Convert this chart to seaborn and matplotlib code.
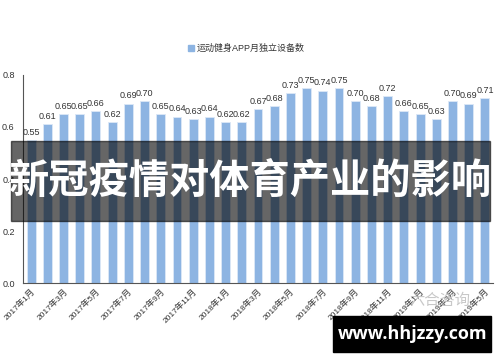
import matplotlib
matplotlib.use("Agg")
import matplotlib.pyplot as plt
import seaborn as sns
import pandas as pd
from matplotlib.patches import Rectangle

months = [f"2017年{m}月" for m in range(1, 13)] + [f"2018年{m}月" for m in range(1, 13)] + [f"2019年{m}月" for m in range(1, 6)]
values = [0.55, 0.61, 0.65, 0.65, 0.66, 0.62, 0.69, 0.70, 0.65, 0.64, 0.63, 0.64,
          0.62, 0.62, 0.67, 0.68, 0.73, 0.75, 0.74, 0.75, 0.70, 0.68, 0.72, 0.66,
          0.65, 0.63, 0.70, 0.69, 0.71]
series_name = "运动健身APP月独立设备数"
yticks = [0.0, 0.2, 0.4, 0.6, 0.8]
title_text = "新冠疫情对体育产业的影响"
site_text = "www.hhjzzy.com"
watermark_text = "六合咨询"

sns.set_style("white")
plt.rcParams['font.family'] = ['Liberation Sans', 'Noto Sans CJK SC', 'DejaVu Sans']

df = pd.DataFrame({"month": months, "value": values})

fig = plt.figure(figsize=(5, 3.62), dpi=100)
ax = fig.add_axes([0.046, 0.218, 0.94, 0.575])
bar_color = "#8DB4E2"
sns.barplot(data=df, x="month", y="value", color=bar_color, width=0.55,
            edgecolor="#DCE8F6", linewidth=0.6, ax=ax, saturation=1)

ax.set_xlim(-0.5, len(months) - 0.5)
ax.set_ylim(0, 0.8)
ax.set_xlabel("")
ax.set_ylabel("")
ax.set_yticks(yticks)
ax.set_yticklabels([f"{t:.1f}" for t in yticks], fontsize=6.5, color="#333333")
ax.tick_params(axis='y', direction='in', length=3, width=0.6, color="#555555", pad=6)

ax.set_xticks(range(0, len(months), 2))
ax.set_xticklabels(months[::2], rotation=45, ha='right', rotation_mode='anchor',
                   fontsize=6, color="#333333")
ax.tick_params(axis='x', length=0, pad=3)
ax.set_xticks([i + 0.5 for i in range(1, len(months) - 1, 2)], minor=True)
ax.tick_params(axis='x', which='minor', direction='in', length=2.5, width=0.6, color="#555555")

for s in ["top", "right"]:
    ax.spines[s].set_visible(False)
for s in ["left", "bottom"]:
    ax.spines[s].set_color("#555555")
    ax.spines[s].set_linewidth(0.8)

for i, v in enumerate(values):
    ax.text(i, v + 0.012, f"{v:.2f}", ha='center', va='bottom', fontsize=6.5, color="#333333")

# legend
fig.patches.append(Rectangle((188 / 500, 1 - 51 / 362), 6 / 500, 6 / 362,
                             transform=fig.transFigure, color=bar_color))
fig.text(197 / 500, 1 - 48 / 362, series_name, fontsize=6.5, color="#333333",
         ha='left', va='center')

# banner overlay
fig.patches.append(Rectangle((11 / 500, 1 - 221 / 362), 479 / 500, 80 / 362,
                             transform=fig.transFigure, color="black", alpha=0.6, zorder=10))
fig.text(250 / 500, 1 - 182 / 362, title_text, fontsize=29, color="white",
         fontweight='heavy', ha='center', va='center', zorder=11,
         family=['Noto Sans CJK SC', 'DejaVu Sans'])

# watermark
fig.text(440 / 500, 1 - 300 / 362, watermark_text, fontsize=11, color="#BBBBBB",
         ha='center', va='center', alpha=0.8, zorder=9,
         family=['Noto Sans CJK SC', 'DejaVu Sans'])

# site box
fig.patches.append(Rectangle((333 / 500, 1 - 352 / 362), 158 / 500, 36 / 362,
                             transform=fig.transFigure, color="black", zorder=10))
fig.text(413 / 500, 1 - 334 / 362, site_text, fontsize=13, color="white",
         fontweight='bold', ha='center', va='center', zorder=11,
         family=['Open Sans', 'DejaVu Sans'])

fig.savefig("out.png", dpi=100)
